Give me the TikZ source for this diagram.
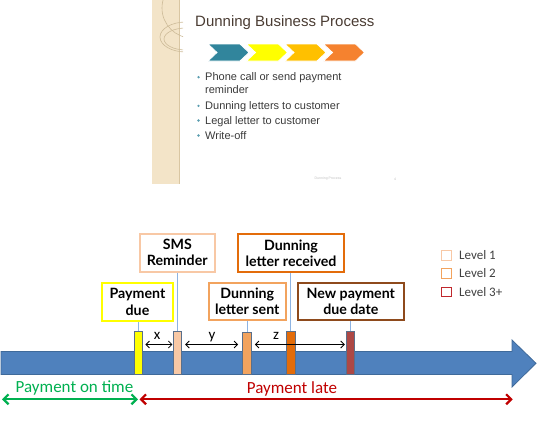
\documentclass[tikz,border=0pt]{standalone}
\usepackage{fontspec}
\setmainfont{Liberation Sans}
\newfontfamily\calfont{Carlito}
\newfontfamily\boxfont{Lato}
\usetikzlibrary{arrows.meta,calc}
\definecolor{bandc}{HTML}{F3E4C8}
\definecolor{bandl}{HTML}{D9C6A2}
\definecolor{decor}{HTML}{CDBB98}
\definecolor{titlec}{HTML}{4A3C33}
\definecolor{bodyc}{HTML}{3A3A3A}
\definecolor{chA}{HTML}{31859C}
\definecolor{chB}{HTML}{FFFF00}
\definecolor{chC}{HTML}{FFC000}
\definecolor{chD}{HTML}{F5822F}
\definecolor{bluef}{HTML}{4F81BD}
\definecolor{blued}{HTML}{3F6A9A}
\definecolor{connc}{HTML}{8DB3E2}
\definecolor{markd}{HTML}{5A6F8A}
\definecolor{lvA}{HTML}{F8C8A5}
\definecolor{lvB}{HTML}{F2A35E}
\definecolor{lvC}{HTML}{E36C0A}
\definecolor{lvD}{HTML}{AD4845}
\definecolor{brownc}{HTML}{8E4A1C}
\definecolor{greenc}{HTML}{00B050}
\definecolor{redc}{HTML}{C00000}
\definecolor{lev3}{HTML}{C0282D}
\definecolor{legt}{HTML}{404040}
\begin{document}
\begin{tikzpicture}[x=1pt,y=-1pt,
  evbox/.style={draw, fill=white, line width=2.4pt, inner sep=0pt, align=center,
    font=\boxfont\bfseries\fontsize{14.2}{16.3}\selectfont},
  marker/.style={draw=markd, line width=0.8pt, minimum width=8pt, minimum height=42.3pt, inner sep=0pt},
  conn/.style={draw=connc, line width=0.8pt},
  gap/.style={draw=black, line width=0.8pt, {Straight Barb[length=3.5pt,width=7pt]}-{Straight Barb[length=3.5pt,width=7pt]}},
  span/.style={line width=2.2pt, {Straight Barb[length=5pt,width=10pt]}-{Straight Barb[length=5pt,width=10pt]}},
  lgbox/.style={draw, line width=1.3pt, minimum width=10pt, minimum height=9.5pt, inner sep=0pt},
  lgtext/.style={anchor=west, text=legt, font=\calfont\fontsize{13}{15}\selectfont, inner sep=0pt},
  bullet/.style={anchor=base west, text=bodyc, font=\fontsize{11}{13}\selectfont, inner sep=0pt},
  dot/.style={fill=chA!80, circle, inner sep=0pt, minimum size=2.6pt},
  gaplabel/.style={anchor=base, font=\calfont\fontsize{15}{17}\selectfont, inner sep=0pt},
  chev/.style={draw=white, line width=0.8pt}]
\useasboundingbox (0,0) rectangle (545,426);
% ---------- slide ----------
\fill[bandc] (152,0) rectangle (180,184);
\draw[bandl, line width=1pt] (179.5,0) -- (179.5,184);
\begin{scope}
  \clip (152,0) rectangle (183,184);
  \draw[decor, line width=0.6pt] (192,8) circle (30);
  \draw[decor, line width=0.6pt] (186,37) ellipse (26 and 15);
  \draw[decor, line width=0.6pt] (186,39) ellipse (22 and 11);
\end{scope}
\node[anchor=base west, inner sep=0pt, text=titlec, font=\fontsize{15}{18}\selectfont] (title) at (195,26.5) {Dunning Business Process};
\foreach \i/\c in {0/chA,1/chB,2/chC,3/chD}{
  \pgfmathsetmacro{\xa}{208+38.5*\i}
  \fill[\c, chev] (\xa,44) -- ++(32,0) -- ++(9,8.5) -- ++(-9,8.5) -- ++(-32,0) -- ++(9,-8.5) -- cycle;
}
\node[bullet] (b1) at (205,80.7) {Phone call or send payment};
\node[bullet] (b1b) at (205,93.3) {reminder};
\node[bullet] (b2) at (205,109.3) {Dunning letters to customer};
\node[bullet] (b3) at (205,124) {Legal letter to customer};
\node[bullet] (b4) at (205,139) {Write-off};
\foreach \yy in {77.2,105.8,120.5,135.5}{ \node[dot] at (198.5,\yy) {}; }
\node[text=black!25, font=\fontsize{3.5}{4}\selectfont, inner sep=0pt] (foot) at (328,179) {Dunning Process};
\node[text=black!25, font=\fontsize{3.5}{4}\selectfont, inner sep=0pt] (pno) at (395,179) {4};
% ---------- timeline ----------
\filldraw[fill=bluef, draw=blued, line width=0.8pt]
  (1,351.5) -- (512,351.5) -- (512,340) -- (536,363.3) -- (512,387) -- (512,374.5) -- (1,374.5) -- cycle;
% markers
\node[marker, fill=chB] (m1) at (138,352.8) {};
\node[marker, fill=lvA] (m2) at (177.3,352.8) {};
\node[marker, fill=lvB, minimum width=9pt] (m3) at (247,353.2) {};
\node[marker, fill=lvC, minimum width=9pt] (m4) at (290.5,352.8) {};
\node[marker, fill=lvD] (m5) at (350.2,352.8) {};
% boxes
\node[evbox, draw=chB, minimum width=70.5pt, minimum height=38.5pt] (pd) at (137.5,302) {Payment\\due};
\node[evbox, draw=lvA, line width=2pt, minimum width=74.5pt, minimum height=38pt] (sms) at (177.3,252.5) {SMS\\Reminder};
\node[evbox, draw=lvC, minimum width=105.5pt, minimum height=38pt] (dlr) at (291,253) {Dunning\\letter received};
\node[evbox, draw=lvB, minimum width=77pt, minimum height=37.5pt] (dls) at (247.3,301.5) {Dunning\\letter sent};
\node[evbox, draw=brownc, minimum width=106pt, minimum height=37.5pt] (npd) at (350.8,301.5) {New payment\\due date};
% connectors
\draw[conn] (m1.north |- pd.south) -- (m1.north);
\draw[conn] (m2.north |- sms.south) -- (m2.north);
\draw[conn] (m3.north |- dls.south) -- (m3.north);
\draw[conn] (m4.north |- dlr.south) -- (m4.north);
\draw[conn] (m5.north |- npd.south) -- (m5.north);
% gap arrows
\coordinate (ay) at (0,344.5);
\draw[gap] ($(m1.east |- ay)+(3,0)$) -- ($(m2.west |- ay)+(-0.5,0)$);
\draw[gap] ($(m2.east |- ay)+(3.5,0)$) -- ($(m3.west |- ay)+(-4,0)$);
\draw[gap] ($(m3.east |- ay)+(3,0)$) -- ($(m5.west |- ay)+(-1,0)$);
\node[gaplabel] (lx) at (157,339) {x};
\node[gaplabel] (ly) at (212,339) {y};
\node[gaplabel] (lz) at (276,339) {z};
% spans
\coordinate (gs) at (2,399.3);
\coordinate (rs) at (512.7,399.3);
\draw[span, greenc] (gs) -- (m1.south |- gs);
\draw[span, redc] ($(m1.south |- rs)+(1.5,0)$) -- (rs);
\node[anchor=base, text=greenc, font=\calfont\fontsize{17}{20}\selectfont, inner sep=0pt] (pot) at (74.5,392.5) {Payment on time};
\node[anchor=base, text=redc, font=\calfont\fontsize{17}{20}\selectfont, inner sep=0pt] (pl) at (292,393.5) {Payment late};
% legend
\node[lgbox, draw=lvA] (l1) at (446.5,255.5) {};
\node[lgbox, draw=lvB] (l2) at (446.5,273.5) {};
\node[lgbox, draw=lev3] (l3) at (446.5,292) {};
\node[lgtext] (t1) at (459,255.5) {Level 1};
\node[lgtext] (t2) at (459,273.5) {Level 2};
\node[lgtext] (t3) at (459,292) {Level 3+};
\end{tikzpicture}
\end{document}
